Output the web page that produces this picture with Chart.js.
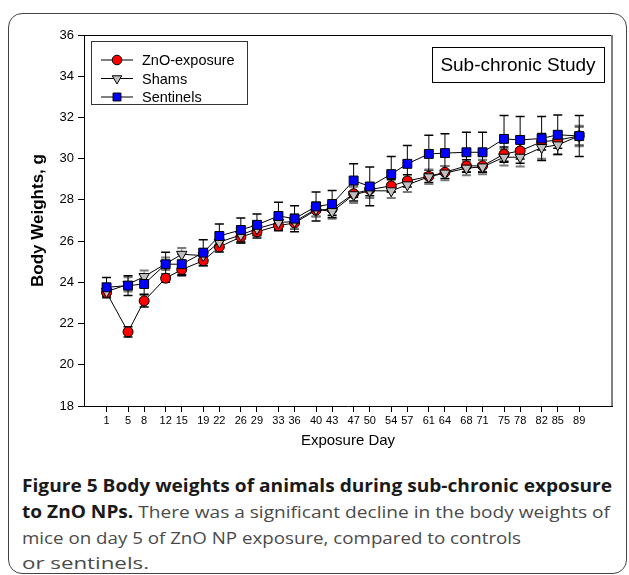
<!DOCTYPE html>
<html>
<head>
<meta charset="utf-8">
<script src="https://cdn.jsdelivr.net/npm/chart.js@4/dist/chart.umd.min.js"></script>
<style>
  html, body { margin: 0; padding: 0; background: #fff; }
  body { width: 629px; height: 575px; position: relative; overflow: hidden; }
  #frame { position: absolute; left: 8px; top: 13px; width: 619px; height: 561px;
           border: 1.5px solid #444; border-radius: 14px; box-sizing: border-box; }
  #chart { position: absolute; left: 0; top: 0; }
  .cap { position: absolute; left: 22px; white-space: nowrap; font-family: "Open Sans", sans-serif;
         font-size: 17px; line-height: 26px; color: #4a4a4a; transform-origin: 0 50%; }
  .cap b { color: #1a1a1a; font-weight: 700; }
</style>
</head>
<body>
<div id="frame"></div>
<canvas id="chart" width="629" height="460"></canvas>
<div class="cap" id="c1" style="top:473px"><b>Figure 5 Body weights of animals during sub-chronic exposure</b></div>
<div class="cap" id="c2" style="top:499px"><b>to ZnO NPs.</b> There was a significant decline in the body weights of</div>
<div class="cap" id="c3" style="top:525px">mice on day 5 of ZnO NP exposure, compared to controls</div>
<div class="cap" id="c4" style="top:550px">or sentinels.</div>
<script>
const days = [1,5,8,12,15,19,22,26,29,33,36,40,43,47,50,54,57,61,64,68,71,75,78,82,85,89];
const znoMean = [23.5,21.6,23.1,24.2,24.62,25.05,25.72,26.2,26.45,26.75,26.88,27.5,27.55,28.3,28.5,28.68,28.92,29.14,29.34,29.65,29.65,30.22,30.38,30.82,30.9,31.1];
const znoSD   = [0.25,0.25,0.3,0.2,0.3,0.25,0.25,0.3,0.3,0.25,0.3,0.3,0.3,0.35,0.3,0.3,0.3,0.3,0.3,0.3,0.3,0.35,0.4,0.4,0.4,0.45];
const shamMean = [23.55,23.9,24.28,24.9,25.36,25.3,25.95,26.3,26.6,26.9,26.95,27.55,27.43,28.25,28.44,28.44,28.73,29.12,29.3,29.54,29.6,30.07,30.07,30.54,30.67,31.1];
const shamSD   = [0.3,0.35,0.3,0.3,0.3,0.3,0.3,0.35,0.3,0.3,0.35,0.35,0.35,0.4,0.35,0.35,0.35,0.35,0.35,0.35,0.35,0.4,0.45,0.55,0.45,0.5];
const sentMean = [23.76,23.84,23.92,24.88,24.88,25.44,26.25,26.54,26.79,27.22,27.09,27.68,27.8,28.94,28.65,29.25,29.75,30.23,30.27,30.31,30.31,30.96,30.91,30.98,31.16,31.1];
const sentSD   = [0.47,0.48,0.5,0.58,0.5,0.62,0.58,0.58,0.53,0.66,0.63,0.7,0.66,0.81,0.94,0.85,0.89,0.91,0.94,0.97,0.97,1.13,1.13,1.07,0.96,1.0];
const yTicks = [18,20,22,24,26,28,30,32,34,36];
const seriesNames = ['ZnO-exposure','Shams','Sentinels'];

const FONT = '"Liberation Sans", Arial, sans-serif';
const toPts = (m) => days.map((d,i) => ({x:d, y:m[i]}));

const errorBars = {
  id: 'errorBars',
  beforeDatasetsDraw(chart) {
    const ctx = chart.ctx, xs = chart.scales.x, ys = chart.scales.y;
    chart.data.datasets.forEach(ds => {
      ctx.save();
      ctx.strokeStyle = ds.errColor;
      ds.data.forEach((p, i) => {
        const x = xs.getPixelForValue(p.x);
        const yt = ys.getPixelForValue(p.y + ds.sd[i]);
        const yb = ys.getPixelForValue(p.y - ds.sd[i]);
        ctx.lineWidth = 1;
        ctx.beginPath(); ctx.moveTo(x, yt); ctx.lineTo(x, yb); ctx.stroke();
        ctx.lineWidth = ds.capWidth;
        ctx.beginPath();
        ctx.moveTo(x-4.5, yt); ctx.lineTo(x+4.5, yt);
        ctx.moveTo(x-4.5, yb); ctx.lineTo(x+4.5, yb);
        ctx.stroke();
      });
      ctx.restore();
    });
  }
};

const decor = {
  id: 'decor',
  afterDraw(chart) {
    const ctx = chart.ctx, a = chart.chartArea;
    ctx.save();
    ctx.strokeStyle = '#000'; ctx.lineWidth = 1;
    ctx.beginPath(); ctx.moveTo(a.left, a.top + 0.5); ctx.lineTo(a.right, a.top + 0.5); ctx.stroke();
    ctx.strokeStyle = '#808080'; ctx.lineWidth = 2;
    ctx.beginPath(); ctx.moveTo(a.right, a.top); ctx.lineTo(a.right, a.bottom); ctx.stroke();

    const lx = a.left + 7, ly = a.top + 6;
    ctx.strokeStyle = '#333'; ctx.lineWidth = 1;
    ctx.strokeRect(lx + 0.5, ly + 0.5, 156, 63);
    ctx.font = '14.5px ' + FONT; ctx.textBaseline = 'middle'; ctx.textAlign = 'left';
    chart.data.datasets.forEach((ds, i) => {
      const cy = ly + 19 + i * 18.5;
      ctx.strokeStyle = '#000'; ctx.lineWidth = 1;
      ctx.beginPath(); ctx.moveTo(lx + 10, cy); ctx.lineTo(lx + 42, cy); ctx.stroke();
      ctx.fillStyle = ds.pointBackgroundColor; ctx.strokeStyle = '#000';
      Chart.helpers.drawPoint(ctx, {pointStyle: ds.pointStyle, radius: ds.legendRadius, rotation: ds.pointRotation || 0, borderWidth: 1}, lx + 26, cy);
      ctx.fillStyle = '#000';
      ctx.fillText(seriesNames[i], lx + 51, cy + 1);
    });

    const bx = a.right - 180, by = a.top + 12;
    ctx.strokeStyle = '#000'; ctx.lineWidth = 1;
    ctx.strokeRect(bx + 0.5, by + 0.5, 172, 35);
    ctx.font = '19px ' + FONT; ctx.textAlign = 'center'; ctx.fillStyle = '#000';
    ctx.fillText('Sub-chronic Study', bx + 86, by + 19);
    ctx.restore();
  }
};

new Chart(document.getElementById('chart'), {
  type: 'line',
  data: {
    datasets: [
      { label: seriesNames[0], data: toPts(znoMean), sd: znoSD, errColor: '#000', capWidth: 1.5,
        borderColor: '#000', borderWidth: 1, pointStyle: 'circle', pointRadius: 5, legendRadius: 4.8,
        pointBackgroundColor: '#ff0000', pointBorderColor: '#000', pointBorderWidth: 1, order: 3 },
      { label: seriesNames[1], data: toPts(shamMean), sd: shamSD, errColor: '#7a7a7a', capWidth: 2,
        borderColor: '#000', borderWidth: 1, pointStyle: 'triangle', pointRotation: 180, pointRadius: 6, legendRadius: 5.5,
        pointBackgroundColor: '#c0c0c0', pointBorderColor: '#000', pointBorderWidth: 1, order: 2 },
      { label: seriesNames[2], data: toPts(sentMean), sd: sentSD, errColor: '#000', capWidth: 1.5,
        borderColor: '#000', borderWidth: 1, pointStyle: 'rect', pointRadius: 6.3, legendRadius: 5.6,
        pointBackgroundColor: '#0000ff', pointBorderColor: '#000', pointBorderWidth: 1, order: 1 }
    ]
  },
  options: {
    responsive: false, animation: false, devicePixelRatio: 1,
    layout: { padding: { left: 0, top: 35, right: 17, bottom: 0 } },
    plugins: { legend: { display: false }, tooltip: { enabled: false } },
    elements: { line: { tension: 0 } },
    scales: {
      x: {
        type: 'linear', min: -3.2, max: 95.1,
        afterBuildTicks: s => { s.ticks = days.map(d => ({ value: d })); },
        afterFit: s => { s.height = 54; },
        ticks: { autoSkip: false, maxRotation: 0, color: '#000', padding: 2,
                 font: { family: FONT, size: 11 }, callback: v => String(v) },
        grid: { drawOnChartArea: false, drawTicks: true, tickLength: 6, color: '#000' },
        border: { display: true, color: '#000', width: 1 },
        title: { display: true, text: 'Exposure Day', color: '#000',
                 font: { family: FONT, size: 15 }, padding: { top: 0, bottom: 10 } }
      },
      y: {
        min: 18, max: 36,
        afterBuildTicks: s => { s.ticks = yTicks.map(v => ({ value: v })); },
        afterFit: s => { s.width = 84; },
        ticks: { color: '#000', padding: 4, font: { family: FONT, size: 13 } },
        grid: { drawOnChartArea: false, drawTicks: true, tickLength: 6, color: '#000' },
        border: { display: true, color: '#000', width: 1 },
        title: { display: true, text: 'Body Weights, g', color: '#000',
                 font: { family: FONT, size: 17, weight: 'bold' }, padding: { top: 28, bottom: 0 } }
      }
    }
  },
  plugins: [errorBars, decor]
});

const capTargets = { c1: 590, c2: 588, c3: 499, c4: 127 };
for (const id in capTargets) {
  const el = document.getElementById(id);
  const w = el.getBoundingClientRect().width;
  el.style.transform = 'scaleX(' + (capTargets[id] / w) + ')';
}
</script>
</body>
</html>
